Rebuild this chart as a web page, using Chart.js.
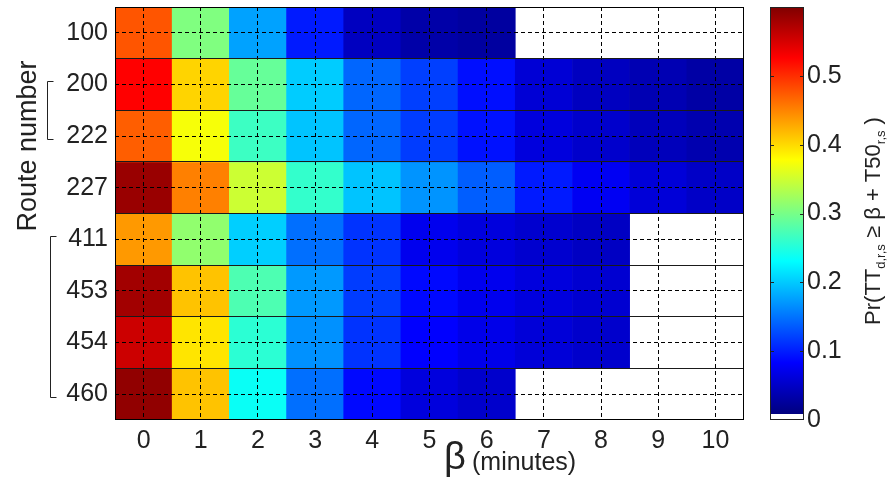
<!DOCTYPE html>
<html>
<head>
<meta charset="utf-8">
<script src="https://cdn.jsdelivr.net/npm/chart.js@4.4.1/dist/chart.umd.min.js"></script>
<style>
  html, body { margin: 0; padding: 0; background: #fff; }
  #quadro { position: relative; width: 894px; height: 481px; }
  #grafico-mapa { position: absolute; left: 0; top: 0; }
  #grafico-barra { position: absolute; left: 760px; top: 0; }
</style>
</head>
<body>
<div id="quadro">
  <canvas id="grafico-mapa" width="760" height="481"></canvas>
  <canvas id="grafico-barra" width="134" height="481"></canvas>
</div>
<script>
// mapa de probabilidade por rota e β
const rotas = ['100', '200', '222', '227', '411', '453', '454', '460'];
const betas = ['0', '1', '2', '3', '4', '5', '6', '7', '8', '9', '10'];

// Pr(TT >= β + T50) (null = sem dado)
const p100 = [0.475, 0.30, 0.17, 0.09, 0.038, 0.024, 0.019, null, null, null, null];
const p200 = [0.525, 0.40, 0.285, 0.195, 0.135, 0.112, 0.083, 0.05, 0.038, 0.03, 0.022];
const p222 = [0.47, 0.37, 0.26, 0.19, 0.135, 0.11, 0.085, 0.055, 0.045, 0.035, 0.028];
const p227 = [0.585, 0.45, 0.345, 0.255, 0.19, 0.162, 0.13, 0.09, 0.068, 0.052, 0.042];
const p411 = [0.435, 0.31, 0.197, 0.14, 0.105, 0.065, 0.055, 0.047, 0.04, null, null];
const p453 = [0.58, 0.41, 0.27, 0.165, 0.11, 0.08, 0.065, 0.055, 0.048, null, null];
const p454 = [0.555, 0.39, 0.25, 0.16, 0.105, 0.075, 0.062, 0.052, 0.045, null, null];
const p460 = [0.59, 0.41, 0.23, 0.14, 0.08, 0.055, 0.045, null, null, null, null];

// escala de cores (barra lateral)
const escalaMin = 0;
const escalaMax = 0.6;
const ticksBarra = [0, 0.1, 0.2, 0.3, 0.4, 0.5];

// grupos de rotas marcados com colchetes (índices em rotas)
const grupos = [[1, 2], [4, 7]];

const linhas = [p100, p200, p222, p227, p411, p453, p454, p460];
const FONTE = '"Liberation Sans", Arial, Helvetica, sans-serif';
const passoBranco = (escalaMax - escalaMin) / 64;

function jetT(t) {
  const c = x => Math.round(255 * Math.min(1, Math.max(0, 1.5 - Math.abs(x))));
  return `rgb(${c(4 * t - 3)},${c(4 * t - 2)},${c(4 * t - 1)})`;
}
function jet(v) {
  const t = Math.min(1, Math.max(0, (v - escalaMin) / (escalaMax - escalaMin)));
  return jetT(t);
}

// tamanho fixo do eixo, sem folga extra dos rótulos
const fixar = (largura, altura) => s => {
  if (largura !== null) s.width = largura;
  if (altura !== null) s.height = altura;
  s.paddingTop = 0; s.paddingBottom = 0; s.paddingLeft = 0; s.paddingRight = 0;
};

// moldura, colchetes e títulos do mapa
const molduraMapa = {
  id: 'molduraMapa',
  afterDraw(chart) {
    const { ctx, chartArea: a, scales } = chart;
    ctx.save();
    ctx.strokeStyle = '#000';
    ctx.lineWidth = 1;
    ctx.strokeRect(a.left + 0.5, a.top + 0.5, a.right - a.left - 1, a.bottom - a.top - 1);

    // colchetes
    grupos.forEach(([ini, fim], k) => {
      const x = k === 0 ? 47.5 : 50.5;
      const y0 = Math.round(scales.y.getPixelForValue(ini + 0.5)) - 2.5;
      const y1 = Math.round(scales.y.getPixelForValue(fim + 0.5)) + 3.5;
      ctx.beginPath();
      ctx.moveTo(x + 6, y0);
      ctx.lineTo(x, y0);
      ctx.lineTo(x, y1);
      ctx.lineTo(x + 6, y1);
      ctx.strokeStyle = '#222';
      ctx.stroke();
    });

    // título eixo y
    ctx.fillStyle = '#222';
    ctx.save();
    ctx.translate(36, 146);
    ctx.rotate(-Math.PI / 2);
    ctx.font = `27px ${FONTE}`;
    ctx.textAlign = 'center';
    ctx.textBaseline = 'alphabetic';
    ctx.fillText('Route number', 0, 0);
    ctx.restore();

    // título eixo x
    ctx.textAlign = 'left';
    ctx.textBaseline = 'alphabetic';
    ctx.font = `38px ${FONTE}`;
    ctx.fillText('β', 444, 469);
    ctx.font = `25px ${FONTE}`;
    ctx.fillText('(minutes)', 472, 470);
    ctx.restore();
  }
};

const datasets = linhas.map((serie, i) => ({
  label: rotas[i],
  data: serie.map(v => (v === null ? null : [i, i + 1])),
  backgroundColor: serie.map(v => (v === null ? 'rgba(0,0,0,0)' : jet(v))),
  borderWidth: 0,
  grouped: false,
  categoryPercentage: 1,
  barPercentage: 1
}));

new Chart(document.getElementById('grafico-mapa'), {
  type: 'bar',
  data: { labels: betas, datasets },
  options: {
    responsive: false,
    animation: false,
    devicePixelRatio: 1,
    layout: { padding: { top: 7, right: 16, left: 0, bottom: 0 } },
    plugins: { legend: { display: false }, tooltip: { enabled: false } },
    scales: {
      x: {
        type: 'category',
        offset: true,
        grid: { offset: false, color: '#000', lineWidth: 1, drawTicks: false, z: 1 },
        border: { display: false, dash: [4, 3] },
        ticks: { color: '#222', font: { family: FONTE, size: 25 }, padding: 6, maxRotation: 0 },
        afterFit: fixar(null, 61)
      },
      y: {
        type: 'linear',
        min: 0,
        max: rotas.length,
        reverse: true,
        afterBuildTicks: s => { s.ticks = rotas.map((_, i) => ({ value: i + 0.5 })); },
        grid: { color: '#000', lineWidth: 1, drawTicks: false, z: 1 },
        border: { display: false, dash: [4, 3] },
        ticks: {
          color: '#222',
          font: { family: FONTE, size: 25 },
          padding: 7,
          callback: (v, i) => rotas[i]
        },
        afterFit: fixar(115, null)
      },
      yLinhas: {
        type: 'linear',
        position: 'left',
        min: 0,
        max: rotas.length,
        reverse: true,
        afterBuildTicks: s => { s.ticks = rotas.slice(1).map((_, i) => ({ value: i + 1 })); },
        grid: { color: '#1a1a1a', lineWidth: 1, drawTicks: false, z: 1 },
        border: { display: false },
        ticks: { display: false },
        afterFit: fixar(0, null)
      }
    }
  },
  plugins: [molduraMapa]
});

// barra de cores
function gradiente(chart) {
  const { ctx, chartArea, scales } = chart;
  if (!chartArea) return null;
  const y0 = scales.y.getPixelForValue(escalaMin + passoBranco);
  const y1 = scales.y.getPixelForValue(escalaMax);
  const g = ctx.createLinearGradient(0, y0, 0, y1);
  [0, 0.125, 0.375, 0.625, 0.875, 1].forEach(t => g.addColorStop(t, jetT(t)));
  return g;
}

const molduraBarra = {
  id: 'molduraBarra',
  afterDraw(chart) {
    const { ctx, chartArea: a, scales } = chart;
    ctx.save();
    ctx.strokeStyle = '#222';
    ctx.lineWidth = 1;
    ctx.strokeRect(a.left + 0.5, a.top + 0.5, a.right - a.left - 1, a.bottom - a.top - 1);
    ticksBarra.slice(1).forEach(v => {
      const y = Math.round(scales.y.getPixelForValue(v)) + 0.5;
      ctx.beginPath();
      ctx.moveTo(a.left, y); ctx.lineTo(a.left + 4, y);
      ctx.moveTo(a.right - 4, y); ctx.lineTo(a.right, y);
      ctx.stroke();
    });

    // título com subscritos
    const partes = [
      ['Pr(TT', 22, 0],
      ['d,r,s', 13, 5],
      [' ≥ β + T50', 22, 0],
      ['r,s', 13, 5],
      [' )', 22, 0]
    ];
    let total = 0;
    partes.forEach(([txt, tam]) => { ctx.font = `${tam}px ${FONTE}`; total += ctx.measureText(txt).width; });
    ctx.translate(120, 221);
    ctx.rotate(-Math.PI / 2);
    ctx.fillStyle = '#222';
    ctx.textBaseline = 'alphabetic';
    let x = -total / 2;
    partes.forEach(([txt, tam, dy]) => {
      ctx.font = `${tam}px ${FONTE}`;
      ctx.fillText(txt, x, dy);
      x += ctx.measureText(txt).width;
    });
    ctx.restore();
  }
};

new Chart(document.getElementById('grafico-barra'), {
  type: 'bar',
  data: {
    labels: [''],
    datasets: [{
      data: [[escalaMin + passoBranco, escalaMax]],
      backgroundColor: ctx => gradiente(ctx.chart),
      borderWidth: 0,
      categoryPercentage: 1,
      barPercentage: 1
    }]
  },
  options: {
    responsive: false,
    animation: false,
    devicePixelRatio: 1,
    layout: { padding: { top: 7, left: 10, right: 0, bottom: 61 } },
    plugins: { legend: { display: false }, tooltip: { enabled: false } },
    scales: {
      x: { display: false },
      y: {
        position: 'right',
        min: escalaMin,
        max: escalaMax,
        afterBuildTicks: s => { s.ticks = ticksBarra.map(v => ({ value: v })); },
        grid: { display: false, drawTicks: false },
        border: { display: false },
        ticks: {
          color: '#222',
          font: { family: FONTE, size: 25 },
          padding: 3,
          callback: v => (v === 0 ? '0' : v.toFixed(1))
        },
        afterFit: fixar(90, null)
      }
    }
  },
  plugins: [molduraBarra]
});
</script>
</body>
</html>
